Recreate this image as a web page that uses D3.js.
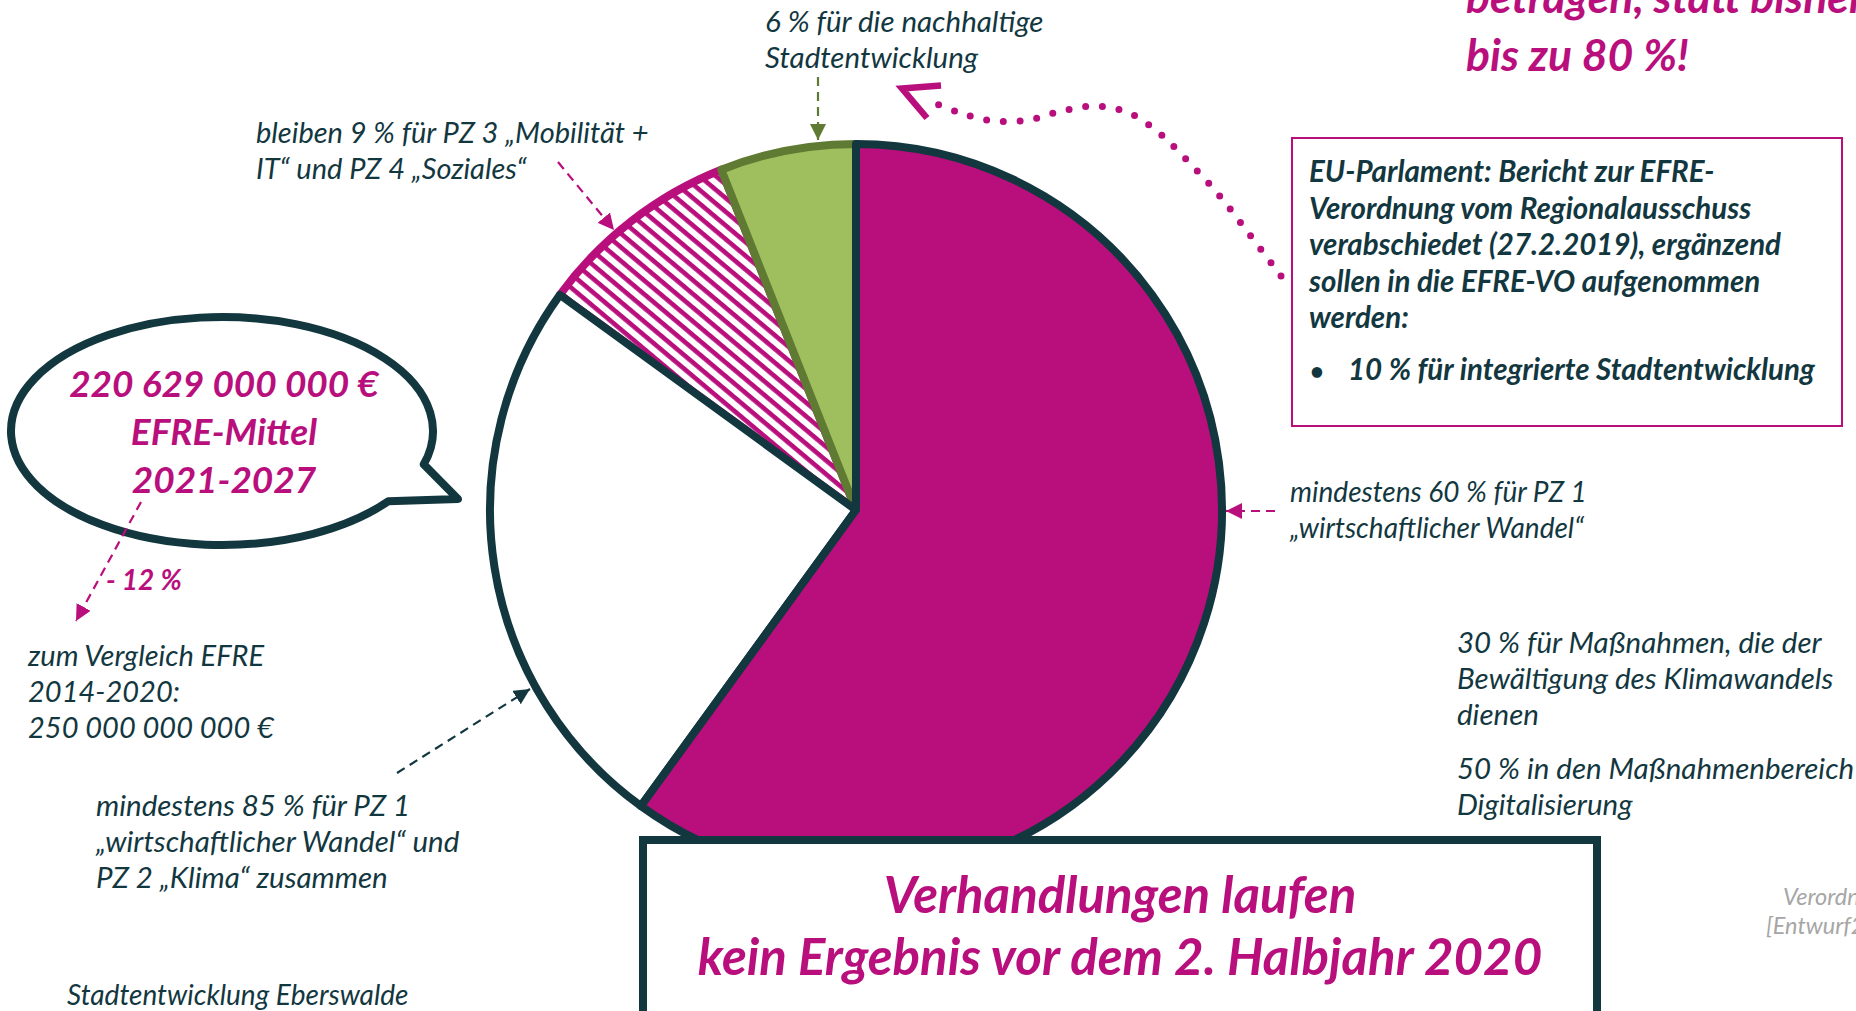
<!DOCTYPE html>
<html>
<head>
<meta charset="utf-8">
<script src="https://cdn.jsdelivr.net/npm/d3@7"></script>
<style>
  html, body { margin: 0; padding: 0; background: #fff; overflow: hidden; }
  svg { display: block; font-family: Lato, "Open Sans", sans-serif; font-style: italic; }
</style>
</head>
<body>
<svg id="chart" width="1856" height="1011"></svg>
<script>
// Anteile am EFRE 2021-2027 (Prozent), im Uhrzeigersinn ab 12 Uhr
const sliceKeys = ["pz1", "pz2", "pz34", "stadt"];
const sliceValues = [60, 25, 9, 6];

// Texte
const titleLines = ["betragen, statt bisher", "bis zu 80 %!"];
const stadtLabel = ["6 % für die nachhaltige", "Stadtentwicklung"];
const pz34Label = ["bleiben 9 % für PZ 3 „Mobilität +", "IT“ und PZ 4 „Soziales“"];
const pz1Label = ["mindestens 60 % für PZ 1", "„wirtschaftlicher Wandel“"];
const pz12Label = ["mindestens 85 % für PZ 1", "„wirtschaftlicher Wandel“ und", "PZ 2 „Klima“ zusammen"];
const bubbleLines = ["220 629 000 000 €", "EFRE-Mittel", "2021-2027"];
const changeLabel = "- 12 %";
const compareLines = ["zum Vergleich EFRE", "2014-2020:", "250 000 000 000 €"];
const parlLines = ["EU-Parlament: Bericht zur EFRE-", "Verordnung vom Regionalausschuss",
                   "verabschiedet (27.2.2019), ergänzend", "sollen in die EFRE-VO aufgenommen", "werden:"];
const parlBullet = "10 % für integrierte Stadtentwicklung";
const klimaLines = ["30 % für Maßnahmen, die der", "Bewältigung des Klimawandels", "dienen"];
const digiLines = ["50 % in den Maßnahmenbereich", "Digitalisierung"];
const boxLines = ["Verhandlungen laufen", "kein Ergebnis vor dem 2. Halbjahr 2020"];
const sourceLines = ["Verordnung", "[Entwurf2"];
const footer = "Stadtentwicklung Eberswalde";

const magenta = "#b80f7d", dark = "#13373f", olive = "#5f7a32", green = "#9fbe5d", grey = "#a6a6a6";

const svg = d3.select("#chart");
const defs = svg.append("defs");

// Schraffur für PZ 3 + PZ 4
const pat = defs.append("pattern")
    .attr("id", "hatch")
    .attr("patternUnits", "userSpaceOnUse")
    .attr("width", 10.5).attr("height", 10.5)
    .attr("patternTransform", "rotate(40)");
pat.append("rect").attr("width", 10.5).attr("height", 10.5).attr("fill", "#fff");
pat.append("rect").attr("width", 10.5).attr("height", 4.6).attr("fill", magenta);

// Pfeilspitzen
[["m", magenta], ["d", dark], ["o", olive]].forEach(([id, c]) => {
  defs.append("marker")
      .attr("id", "arrow-" + id)
      .attr("viewBox", "0 0 10 10")
      .attr("refX", 10).attr("refY", 5)
      .attr("markerUnits", "userSpaceOnUse")
      .attr("markerWidth", 16).attr("markerHeight", 16)
      .attr("orient", "auto")
    .append("path")
      .attr("d", "M0,0 L10,5 L0,10 z")
      .attr("fill", c);
});

const sliceStyle = {
  pz1:   { fill: magenta, stroke: dark, order: 3 },
  pz2:   { fill: "#fff", stroke: dark, order: 2 },
  pz34:  { fill: "url(#hatch)", stroke: magenta, order: 0 },
  stadt: { fill: green, stroke: olive, order: 1 }
};

// ******** Torte ********
const cx = 856, cy = 510, R = 366;
const pie = d3.pie().sort(null).value(d => d.value);
const arc = d3.arc().innerRadius(0).outerRadius(R);
const slices = pie(sliceKeys.map((k, i) => ({ key: k, value: sliceValues[i] })))
    .sort((a, b) => sliceStyle[a.data.key].order - sliceStyle[b.data.key].order);

svg.append("g")
    .attr("transform", `translate(${cx},${cy})`)
  .selectAll("path")
  .data(slices)
  .join("path")
    .attr("d", arc)
    .attr("fill", d => sliceStyle[d.data.key].fill)
    .attr("stroke", d => sliceStyle[d.data.key].stroke)
    .attr("stroke-width", 8)
    .attr("stroke-linejoin", "round");

// ******** Hilfsfunktionen ********
function lines(arr, x, y, dy, opt) {
  const t = svg.append("text")
      .attr("x", x).attr("y", y)
      .attr("fill", opt.color || dark)
      .attr("font-size", opt.size)
      .attr("font-weight", opt.weight || 400)
      .attr("text-anchor", opt.anchor || "start");
  arr.forEach((s, i) => {
    t.append("tspan").attr("x", x).attr("y", y + i * dy).text(s);
  });
  return t;
}

function arrow(x1, y1, x2, y2, color, id, w) {
  svg.append("line")
      .attr("x1", x1).attr("y1", y1).attr("x2", x2).attr("y2", y2)
      .attr("stroke", color)
      .attr("stroke-width", w || 2.2)
      .attr("stroke-dasharray", "9 6")
      .attr("marker-end", `url(#arrow-${id})`);
}

// ******** Sprechblase ********
const bx = 222, by = 431, brx = 211, bry = 114;
const ang1 = 17 * Math.PI / 180, ang2 = 38 * Math.PI / 180;
const p1 = [bx + brx * Math.cos(ang1), by + bry * Math.sin(ang1)];
const p2 = [bx + brx * Math.cos(ang2), by + bry * Math.sin(ang2)];
svg.append("path")
    .attr("d", `M${p1} A${brx},${bry} 0 1 0 ${p2} L458,499 Z`)
    .attr("fill", "#fff")
    .attr("stroke", dark)
    .attr("stroke-width", 8)
    .attr("stroke-linejoin", "round");

lines(bubbleLines, 224, 397, 48, { size: 37, weight: 700, color: magenta, anchor: "middle" });

arrow(141, 502, 76, 621, magenta, "m");
lines([changeLabel], 106, 590, 0, { size: 28, weight: 700, color: magenta });
lines(compareLines, 28, 666, 36, { size: 29 });

// ******** Beschriftungen der Torte ********
lines(stadtLabel, 765, 32, 36, { size: 29.5 });
arrow(818, 77, 818, 140, olive, "o");

lines(pz34Label, 256, 143, 36, { size: 29 });
arrow(558, 162, 614, 230, magenta, "m");

lines(pz1Label, 1290, 502, 36, { size: 28 });
arrow(1275, 511, 1226, 511, magenta, "m");

lines(pz12Label, 96, 816, 36, { size: 29.5 });
arrow(397, 773, 530, 689, dark, "d");

lines(klimaLines, 1457, 653, 36, { size: 29.5 });
lines(digiLines, 1457, 779, 36, { size: 29.5 });

const src = lines(sourceLines, 1783, 905, 29, { size: 23.5, color: grey });
src.select("tspan:nth-child(2)").attr("x", 1766);

lines([footer], 67, 1005, 0, { size: 28 });

// ******** Titel (abgeschnitten) ********
lines(titleLines, 1466, 13, 58, { size: 44.5, weight: 700, color: magenta });

// ******** EU-Parlament-Kasten ********
svg.append("rect")
    .attr("x", 1292).attr("y", 138)
    .attr("width", 550).attr("height", 288)
    .attr("fill", "#fff")
    .attr("stroke", magenta)
    .attr("stroke-width", 2);
lines(parlLines, 1309, 182, 36.5, { size: 29.5, weight: 700 });
lines(["•"], 1310, 380, 0, { size: 24, weight: 700 });
lines([parlBullet], 1348, 380, 0, { size: 29.5, weight: 700 });

// gepunkteter Pfeil vom Kasten zur Torte
const dotPts = [[1281, 276], [1250, 235], [1218, 194], [1183, 156], [1158, 132], [1129, 113],
                [1096, 106], [1062, 111], [1028, 120], [994, 121], [960, 113], [928, 100]];
svg.append("path")
    .attr("d", d3.line().curve(d3.curveCatmullRom)(dotPts))
    .attr("fill", "none")
    .attr("stroke", magenta)
    .attr("stroke-width", 7)
    .attr("stroke-linecap", "round")
    .attr("stroke-dasharray", "0 16.8");
svg.append("path")
    .attr("d", "M941,85.5 L902,88.5 L927,118")
    .attr("fill", "none")
    .attr("stroke", magenta)
    .attr("stroke-width", 6.5)
    .attr("stroke-linejoin", "miter");

// ******** Kasten unten ********
svg.append("rect")
    .attr("x", 643).attr("y", 840)
    .attr("width", 954).attr("height", 220)
    .attr("fill", "#fff")
    .attr("stroke", dark)
    .attr("stroke-width", 8);
lines(boxLines, 1120, 913, 62, { size: 51, weight: 700, color: magenta, anchor: "middle" });
</script>
</body>
</html>
